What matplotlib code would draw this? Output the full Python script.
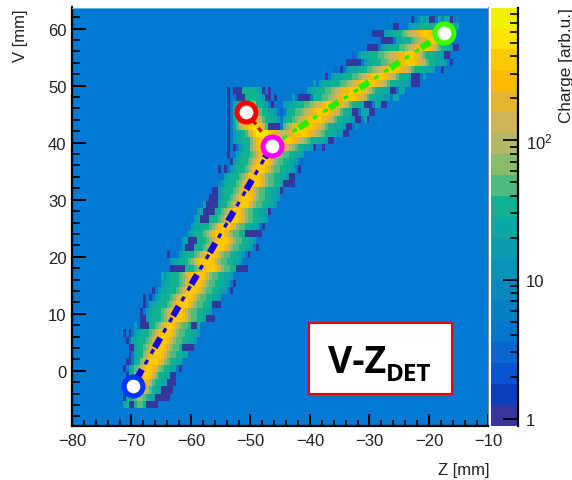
import numpy as np
import matplotlib
matplotlib.use("Agg")
import matplotlib.pyplot as plt
from matplotlib.colors import ListedColormap, BoundaryNorm
from matplotlib.patches import Rectangle
from matplotlib.ticker import FixedLocator, FixedFormatter, NullFormatter

plt.rcParams['font.family'] = ['Liberation Sans', 'DejaVu Sans']
plt.rcParams['lines.scale_dashes'] = False
plt.rcParams['mathtext.default'] = 'regular'

W, H = 572, 481
BG = '#0279d3'

BAND_COLORS = ['#35379f', '#0b3fbd', '#0a55d2', '#0868d0', '#0675cc', '#0680c4', '#0789bf',
               '#0893b8', '#0a9cb0', '#0ca8a5', '#10b390', '#50bb80', '#88bc6a', '#b2b765',
               '#d0b358', '#e5b530', '#fdbb00', '#fdca00', '#fde300', '#f0f000']
BAND_CHARS = 'abcdefghijklmnopqrst'
CHARGE_MIN, CHARGE_MAX = 0.89, 898.0

V_FIRST_EDGE = -6.5
V_STEP = 1.25
Z_STEP = 0.5

# one row per V bin, from the bottom up: Z of first bin, then charge band per bin ('.' = empty)
ROW_Z_START = [-71.5, -71.5, -71.5, -71.5, -71.5, -71.5, -71, -71, -71, -71.5, -71.5,
               -70.5, -70, -69.5, -68.5, -68, -67, -66.5, -66, -65, -64.5, -64,
               -63, -62.5, -61.5, -61, -60.5, -59.5, -59, -58, -57.5, -56.5, -56, -55.5,
               -54.5, -54, -54, -54, -54, -54, -54, -54, -54, -54, -54,
               -39.5, -37.5, -36, -34, -33, -30.5, -28, -29.5, -26, -24]
ROW_BANDS = [
    "jkaakllkaaaa",
    "ajkklnmlkjjaaaaa",
    "ajkkmoponlkjjaaaa",
    "ajklnpqqpnlkkjjaaa",
    ".ajkmoqrrqomkkjjaa",
    "a.jklmoqrrqomlkkjj.a",
    "aa.kkmoqrrrqomlkkjj.e",
    ".a.jkkmoqrrrqomllkkjje",
    ".aajkklmoqrrrqomllkaaaa",
    "ea.jjkkklmoqrrrqomllkkjji.e",
    "a.a.ijkkklmoqrrrqomllkkjji.e",
    "..i.aaakklmoqrrqomllkaaj.e",
    "...aaijkkklmoqrrrqomllkkjaaa",
    "e.a.ijkkklmoqrrrqomllkkjjie",
    ".a.ijjkkklmoqrrrqomllkkjaaa",
    "a.a.ijkkklmoqrrrqomllkkjjie.e",
    ".a.ijjkkklmoqrrrqomllkkjji.a",
    ".e.ijjkkklmoqrrrqomllkkjji.a",
    "..jijkkklmoqrrrrqomllkkjji.e",
    ".e.aaaaakkklmoqrrrqomllkkaaaa",
    "e.ijjkkklmoqrrrrqomllkkjji.e",
    "a.e.ijkkklmoqrrrqomllkkjji.a",
    ".e.iaaakkklmoqrrrqomllkkjji.a",
    "e.ijaaakkklmoqrrrqomllkkjji.e",
    "..ijkkklmoqrrrqomllkkaaaaaa",
    "e.ijjkkklmoqrrrqomllkkjji.a",
    "e.ijaaakkklmoqrrrqomllkkjji.e",
    ".ijaaaakklmoqrrqomllkkjjia",
    "..iaaaajkklmoqrrrqomllkkjji",
    "e.aaaijkklmoqrrrqomllkkjji.e",
    "..aaijkkklmoqrqqomllkkjjiae",
    "..gijkkklmoqrrrrqomllkkjaaaa",
    "e.eijkkklmoqrrrqomllkkjjiaae",
    "a.a.ijkkklmoqrrrqomllkkjji.a",
    "..aijkkklmoqrrrqomllkkjji.d",
    "a..ijkkklmoqrrrrqomllkkjji.e",
    "a.a.ijkkmoqrsrrrrqqponmlkkjjiae.a",
    "a.ijjkkkmoqrsssrrrrrrrqponmlkkkjjiaa",
    "a.ijjklnprssssrqpoooopqrrrrqponmlkkjjiiaa.e",
    "a.jlnpqrrsrqolaaaa.lmopqrrrrrqponlkkjjjiaa.h",
    "a.jlnpqrrqpnlkkjji.jkklmnopqrrrrqponlkkjjiiaa.ja",
    "a.jklnpqqpnlkkjji.d.jkkllmnopqrrrrqponlkkjaa.jjjaa",
    "a.ijkkmnnmkkji.a.e.iijjkkkllmnopqrrrrqponlkkjjaaa.jiaa",
    "a..aaakkkkkjiaa.a.e...i.aaaa.kkkllmnopqrrrrqponlkkjjjii.jj",
    "a.aaakkkkkjia.a..........e.ijjkkkllmnopqqrrrrqponlkkjjjaa.jj",
    "i.ijjjkkkllmnopqrrsrrqponlkkkjjjiaaa",
    "a.ijjjkkkllmnopqrrrrqponlkkkjaaa.i",
    "d.a.ijjjkkkllmnopqrrrrqponlkkkjjjie.a",
    "aaaaa.ijjkkkllmnopqqrrrqponlkkjjji.a",
    "d.ijjjkkkllmnoopqqrrrqpnlkkkjjiaa",
    "aaaa.ijjkkkllmnopqrrrqpnlkkjiaa",
    "aaaa.jjkkklmnopqrrqolkja",
    "aaaaijjkkklmnoopqrrqpo",
    "aa.eeijjjkkkkkkllmkkjj",
    "..a.gjijaa.jgjja.g",
]

# track end points (Z, V)
BLUE_PT = (-69.8, -2.6)
VERTEX_PT = (-46.4, 39.5)
RED_PT = (-50.7, 45.4)
GREEN_PT = (-17.5, 59.2)
MARKER_COLORS = {'blue': '#0033ff', 'magenta': '#ff00ff', 'red': '#ff0000', 'green': '#3cff00'}

X_TICKS = [-80, -70, -60, -50, -40, -30, -20, -10]
Y_TICKS = [0, 10, 20, 30, 40, 50, 60]
CBAR_MAJOR = [1, 10, 100]
CBAR_LABELS = ['1', '10', '10$^{2}$']
CBAR_MINOR = [2, 3, 4, 5, 6, 7, 8, 9, 20, 30, 40, 50, 60, 70, 80, 90,
              200, 300, 400, 500, 600, 700, 800]

fig = plt.figure(figsize=(W / 100, H / 100), dpi=100)


def rect(x0, y0, x1, y1):
    return [x0 / W, 1 - y1 / H, (x1 - x0) / W, (y1 - y0) / H]


def px(x, y):
    return x / W, 1 - y / H


ax = fig.add_axes(rect(72, 8.5, 488.5, 427))
ax.set_facecolor(BG)

edges = np.geomspace(CHARGE_MIN, CHARGE_MAX, len(BAND_COLORS) + 1)
centers = np.sqrt(edges[:-1] * edges[1:])
cmap = ListedColormap(BAND_COLORS)
norm = BoundaryNorm(edges, cmap.N)

z_edges = np.arange(-80, -10 + Z_STEP / 2, Z_STEP)
v_edges = V_FIRST_EDGE + V_STEP * np.arange(len(ROW_BANDS) + 1)
grid = np.full((len(ROW_BANDS), len(z_edges) - 1), np.nan)
for k, (start, row) in enumerate(zip(ROW_Z_START, ROW_BANDS)):
    i0 = int(round((start + 80) / Z_STEP))
    for j, ch in enumerate(row):
        if ch != '.':
            grid[k, i0 + j] = centers[BAND_CHARS.index(ch)]
ax.pcolormesh(z_edges, v_edges, np.ma.masked_invalid(grid), cmap=cmap, norm=norm,
              shading='flat', rasterized=True, zorder=1)

ax.set_xlim(-80, -10)
ax.set_ylim(-9.68, 63.7)
ax.set_xticks(X_TICKS)
ax.set_xticks(np.arange(-80, -9, 2), minor=True)
ax.set_yticks(Y_TICKS)
ax.set_yticks(np.arange(-8, 64, 2), minor=True)
ax.tick_params(axis='x', which='major', direction='in', length=9, width=1.4, labelsize=12, pad=5, labelcolor='#222222')
ax.tick_params(axis='x', which='minor', direction='in', length=4.5, width=1.2)
ax.tick_params(axis='y', which='major', direction='in', length=10, width=1.4, labelsize=12, pad=4, labelcolor='#222222')
ax.tick_params(axis='y', which='minor', direction='in', length=5.5, width=1.2)
ax.spines['top'].set_color('#7fbfe0')
ax.spines['top'].set_linewidth(0.6)
ax.spines['right'].set_color('#8a8a8a')
ax.spines['right'].set_linewidth(0.8)
for s in ['left', 'bottom']:
    ax.spines[s].set_linewidth(1.6)

THICK_ON, THICK_OFF = 8.0, 18.3
THIN_DASH = (3.6, 5.16, 3.6, 13.94)


def track(p0, p1, color, thick_offset, thin_offset):
    xs = [p0[0], p1[0]]
    ys = [p0[1], p1[1]]
    ax.plot(xs, ys, color=color, lw=4.6, ls=(thick_offset, (THICK_ON, THICK_OFF)),
            dash_capstyle='butt', zorder=3)
    ax.plot(xs, ys, color=color, lw=2.4, ls=(thin_offset, THIN_DASH),
            dash_capstyle='butt', zorder=3)


track(BLUE_PT, VERTEX_PT, '#1a00e0', 20.9, 8.5)
track(VERTEX_PT, GREEN_PT, '#22f000', 3.3, 17.2)
ax.plot([RED_PT[0], VERTEX_PT[0]], [RED_PT[1], VERTEX_PT[1]], color='#c81010', lw=2.4,
        ls=(102.25, (3.6, 2.9, 3.6, 100)), dash_capstyle='butt', zorder=3)

for pt, key in [(BLUE_PT, 'blue'), (VERTEX_PT, 'magenta'), (RED_PT, 'red'), (GREEN_PT, 'green')]:
    ax.plot(*pt, 'o', ms=13.6, mfc='white', mec=MARKER_COLORS[key], mew=3.7, zorder=4)

# label box
fig.add_artist(Rectangle(px(308.5, 395), (451.5 - 308.5) / W, (395 - 323.5) / H,
                         transform=fig.transFigure, fc='white', ec='#f00000', lw=1.5, zorder=5))
fig.text(*px(328, 372.7), 'V-Z', fontsize=27, fontweight='bold', family='Open Sans',
         color='black', zorder=6, va='baseline')
fig.text(*px(386, 381), 'DET', fontsize=17.5, fontweight='bold', family='Open Sans',
         color='black', zorder=6, va='baseline')

# colour bar
cax = fig.add_axes(rect(490.5, 8.5, 517.5, 427))
cax.pcolormesh([0, 1], edges, centers[:, None], cmap=cmap, norm=norm, shading='flat')
cax.set_yscale('log')
cax.set_ylim(CHARGE_MIN, CHARGE_MAX)
cax.set_xlim(0, 1)
cax.set_xticks([])
cax.yaxis.tick_right()
cax.yaxis.set_major_locator(FixedLocator(CBAR_MAJOR))
cax.yaxis.set_major_formatter(FixedFormatter(CBAR_LABELS))
cax.yaxis.set_minor_locator(FixedLocator(CBAR_MINOR))
cax.yaxis.set_minor_formatter(NullFormatter())
cax.tick_params(axis='y', which='major', direction='in', length=11, width=1.3, labelsize=12, pad=6, labelcolor='#222222')
cax.tick_params(axis='y', which='minor', direction='in', length=5.5, width=1.2)
for s in ['top', 'left', 'bottom']:
    cax.spines[s].set_visible(False)
cax.spines['right'].set_linewidth(1.6)

fig.text(*px(489, 471), 'Z [mm]', fontsize=12, ha='right', va='center', color='#222222')
fig.text(*px(21, 10), 'V [mm]', fontsize=12, rotation=90, ha='center', va='top', color='#222222')
fig.text(*px(566, 8), 'Charge [arb.u.]', fontsize=12.3, rotation=90, ha='center', va='top', color='#222222')

fig.savefig('out.png', dpi=100)
